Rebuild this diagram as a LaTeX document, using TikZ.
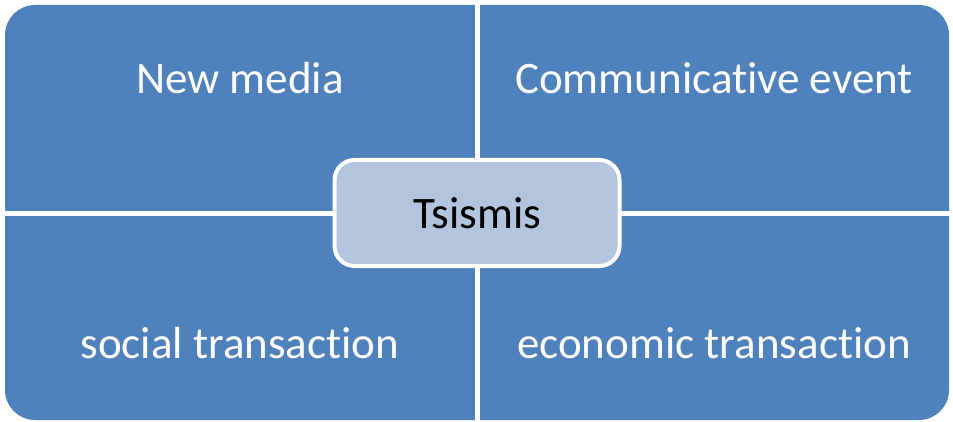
\documentclass[tikz,border=0pt]{standalone}
\usepackage{fontspec}
\setmainfont{Carlito}[RawFeature=-liga]
\usepackage{tikz}
\usetikzlibrary{positioning}

\definecolor{quadblue}{RGB}{79,129,189}
\definecolor{hubblue}{RGB}{179,196,223}

\begin{document}
\begin{tikzpicture}[x=1pt,y=-1pt,
  quadtext/.style={anchor=base,text=white,inner sep=0pt,font=\fontsize{45}{54}\selectfont},
  hub/.style={draw=white,line width=4pt,fill=hubblue,rounded corners=20pt,
    minimum width=285pt,minimum height=106pt,inner sep=0pt,
    font=\fontsize{45}{54}\selectfont}]
\useasboundingbox (0,0) rectangle (953,422);
% the four fields as one rounded block, split by white gaps
\fill [quadblue,rounded corners=30pt] (5,5) rectangle (949,420);
\fill [white] (474.5,0) rectangle (479.5,422);
\fill [white] (0,211) rectangle (953,216);
% labels of the fields
\node [quadtext] (media) at (240,94) {New media};
\node [quadtext] (event) at (714,94) {Communicative event};
\node [quadtext] (social) at (240,358) {social transaction};
\node [quadtext] (economic) at (714,358) {economic transaction};
% centre box
\node [hub] (tsismis) at (477,213) {Tsismis};
\end{tikzpicture}
\end{document}
